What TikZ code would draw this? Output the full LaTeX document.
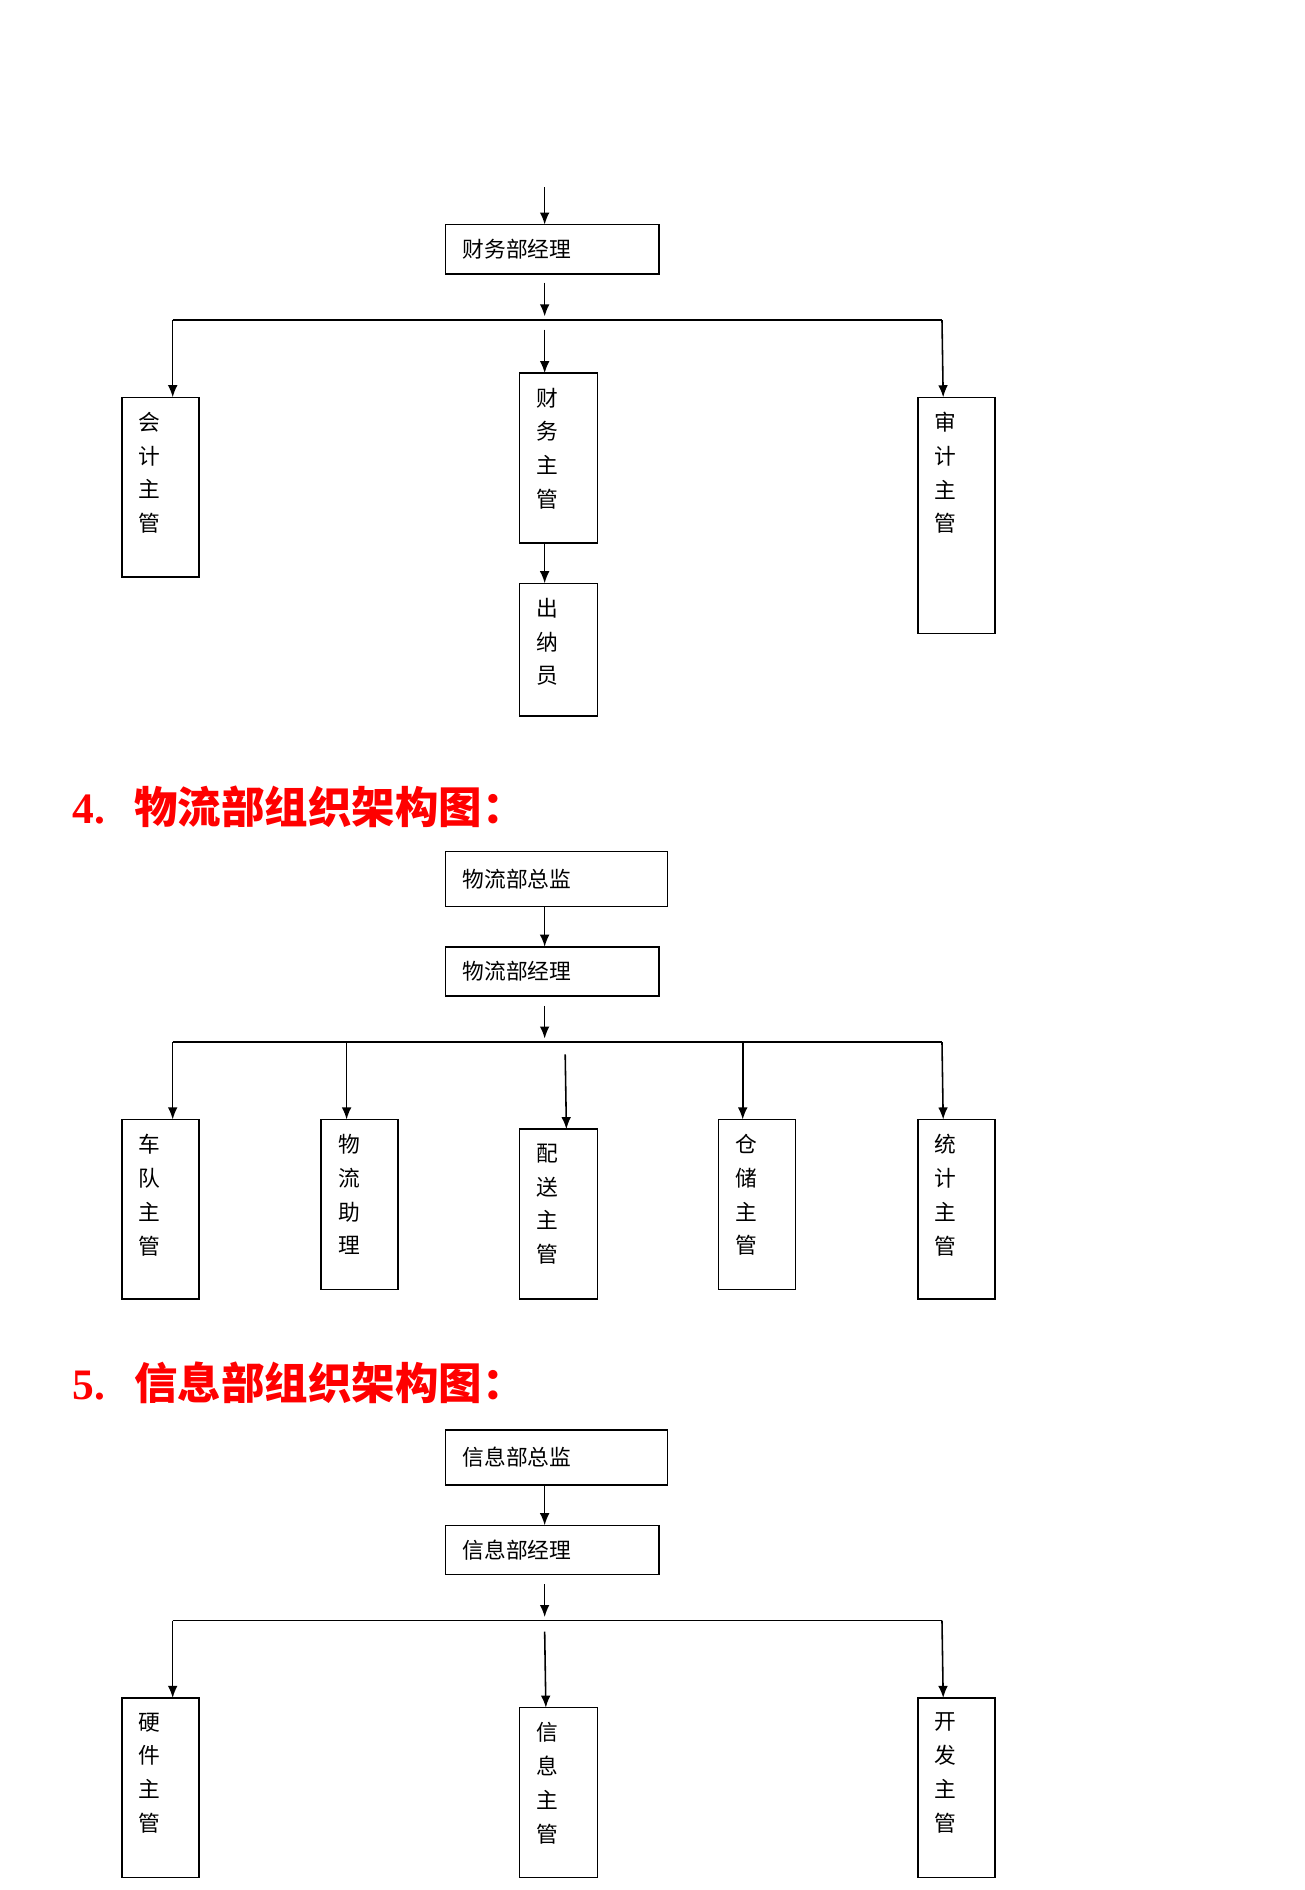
\documentclass[tikz,border=0pt]{standalone}
\usepackage{fontspec}
\newfontfamily\cjk{Noto Sans CJK SC}
\newfontfamily\numfont{Liberation Serif}
\usetikzlibrary{arrows.meta,calc}

\tikzset{
  box/.style={draw, line width=1.3pt, anchor=north west, inner sep=0pt, outer sep=0pt},
  htext/.style={anchor=west, font=\cjk\fontsize{18}{22}\selectfont, inner sep=0pt},
  vtext/.style={anchor=north, align=center, font=\cjk\fontsize{18}{28}\selectfont, inner sep=0pt},
  title/.style={anchor=west, text=red, inner sep=0pt},
  arr/.style={line width=1.3pt, -{Latex[length=10pt,width=8pt]}},
  bar/.style={line width=1.3pt}
}

% horizontal box: name, x1, y1, x2, y2, text
\newcommand{\hbx}[6]{%
  \node[box, minimum width={#4-#2-1.3}, minimum height={#5-#3-1.3}] (#1) at (#2,#3) {};
  \node[htext] at ($(#1.west)+(14,0)$) {#6};}
% vertical box: name, x1, y1, x2, y2, text, text centre x
\newcommand{\vbx}[7]{%
  \node[box, minimum width={#4-#2-1.3}, minimum height={#5-#3-1.3}] (#1) at (#2,#3) {};
  \node[vtext] at (#7,#3+12) {#6};}

\begin{document}
\begin{tikzpicture}[x=1pt,y=-1pt]
  \useasboundingbox (0,0) rectangle (1080,1565);

  % finance
  \hbx{cwjl}{369}{186}{547}{228}{财务部经理}
  \vbx{kjzg}{101}{329}{166}{479}{会\\计\\主\\管}{124}
  \vbx{cwzg}{430}{309}{496}{451}{财\\务\\主\\管}{453}
  \vbx{cny}{430}{483}{496}{594}{出\\纳\\员}{453}
  \vbx{sjzg}{760}{329}{825}{526}{审\\计\\主\\管}{783}
  \coordinate (c0) at (451,155);
  \coordinate (c1) at (451,234);
  \coordinate (c2) at (451,262);
  \coordinate (c3) at (451,273);
  \draw[arr] (c0) -- (cwjl.north -| c0);
  \draw[arr] (c1) -- (c2);
  \draw[bar] (143,265) -- (780,265);
  \draw[arr] (143,265) -- (kjzg.north -| 143,0);
  \draw[arr] (c3) -- (cwzg.north -| c3);
  \draw[arr] (780,265) -- (sjzg.north -| 781,0);
  \draw[arr] (cwzg.south -| 451,0) -- (cny.north -| 451,0);

  % logistics
  \node[title] (t4) at (60,668) {\numfont\bfseries\fontsize{36}{40}\selectfont 4.\hspace{24pt}\cjk\bfseries 物流部组织架构图：};
  \hbx{wlzj}{369}{705}{554}{752}{物流部总监}
  \hbx{wljl}{369}{784}{547}{826}{物流部经理}
  \vbx{cdzg}{101}{927}{166}{1077}{车\\队\\主\\管}{124}
  \vbx{wlzl}{266}{927}{331}{1069}{物\\流\\助\\理}{289}
  \vbx{pszg}{430}{935}{496}{1077}{配\\送\\主\\管}{453}
  \vbx{cczg}{595}{927}{660}{1069}{仓\\储\\主\\管}{618}
  \vbx{tjzg}{760}{927}{825}{1077}{统\\计\\主\\管}{783}
  \draw[arr] (wlzj.south -| 451,0) -- (wljl.north -| 451,0);
  \draw[arr] (451,833) -- (451,860);
  \draw[bar] (143,863) -- (780,863);
  \draw[arr] (143,863) -- (cdzg.north -| 143,0);
  \draw[arr] (287,863) -- (wlzl.north -| 287,0);
  \draw[arr] (468,873) -- (pszg.north -| 469,0);
  \draw[arr] (615,863) -- (cczg.north -| 615,0);
  \draw[arr] (780,863) -- (tjzg.north -| 781,0);

  % information
  \node[title] (t5) at (60,1145) {\numfont\bfseries\fontsize{36}{40}\selectfont 5.\hspace{24pt}\cjk\bfseries 信息部组织架构图：};
  \hbx{xxzj}{369}{1184}{554}{1231}{信息部总监}
  \hbx{xxjl}{369}{1263}{547}{1305}{信息部经理}
  \vbx{yjzg}{101}{1406}{166}{1556}{硬\\件\\主\\管}{124}
  \vbx{xxzg}{430}{1414}{496}{1556}{信\\息\\主\\管}{453}
  \vbx{kfzg}{760}{1406}{825}{1556}{开\\发\\主\\管}{783}
  \draw[arr] (xxzj.south -| 451,0) -- (xxjl.north -| 451,0);
  \draw[arr] (451,1312) -- (451,1339);
  \draw[bar] (143,1342) -- (780,1342);
  \draw[arr] (143,1342) -- (yjzg.north -| 143,0);
  \draw[arr] (451,1351) -- (xxzg.north -| 452,0);
  \draw[arr] (780,1342) -- (kfzg.north -| 781,0);
\end{tikzpicture}
\end{document}
